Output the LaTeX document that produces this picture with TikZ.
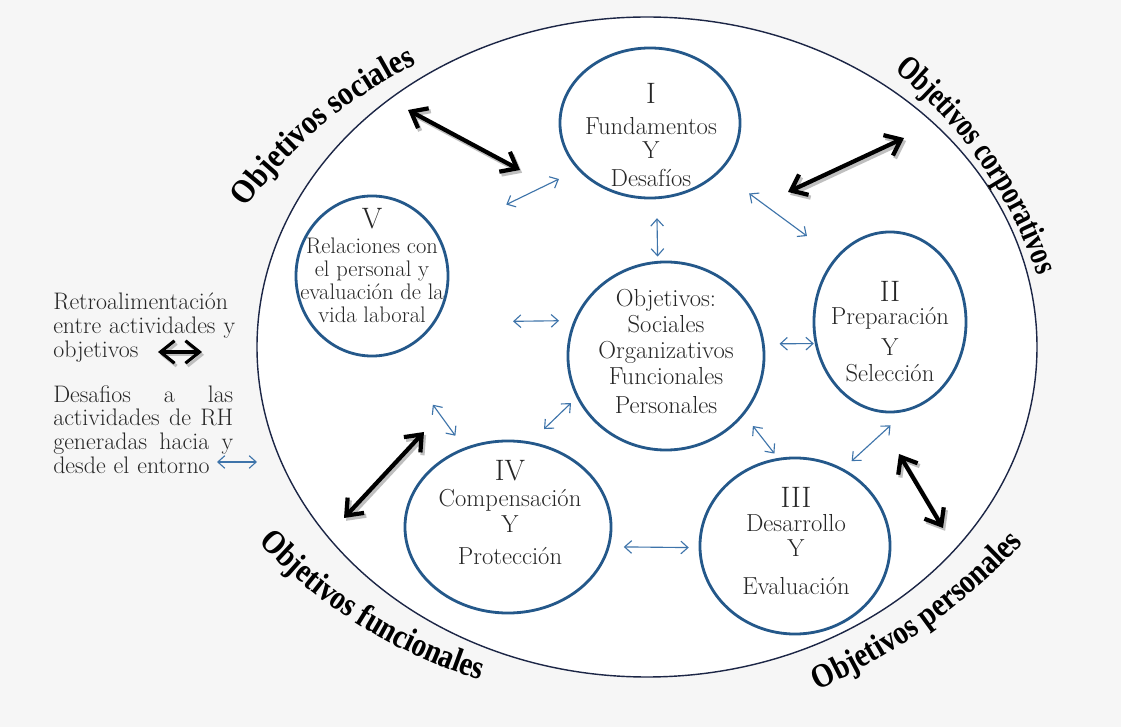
\documentclass[tikz,border=0pt]{standalone}
\usepackage{fontspec}
\usetikzlibrary{arrows.meta,shapes.geometric,decorations.text}
\newfontfamily\arcwide[FakeStretch=0.88]{Liberation Serif}
\newfontfamily\arcmid[FakeStretch=0.85]{Liberation Serif}
\newfontfamily\arcnarrow[FakeStretch=0.77]{Liberation Serif}
\definecolor{circblue}{RGB}{36,88,138}
\definecolor{linkblue}{RGB}{62,116,170}
\definecolor{rimnavy}{RGB}{28,38,70}
\definecolor{paper}{RGB}{246,246,246}
\newcommand*{\numfont}{\fontsize{21}{21}\selectfont}
\newcommand*{\keyline}[1]{\makebox[4.5cm][s]{\spaceskip=.3333em plus 1fil #1}}
\newcommand*{\ArcLabel}[3]{% #1 = font family, #2 = arc the words run along, #3 = words
  \path[decorate, transform canvas={shift={(1.4pt,-1.6pt)}},
    decoration={text along path, text align=center, text color=black!30,
      text={|#1\bfseries\fontsize{24}{24}\selectfont|#3}}] #2;
  \path[decorate, decoration={text along path, text align=center,
      text={|#1\bfseries\fontsize{24}{24}\selectfont|#3}}] #2;
}

\begin{document}
\begin{tikzpicture}[x=0.025cm, y=-0.025cm,
    circ/.style={ellipse, draw=circblue, line width=2pt, inner sep=0pt},
    words/.style={align=center, inner sep=0pt, anchor=north, text=black!85,
      font=\fontsize{17.5}{17}\selectfont},
    key/.style={text width=4.5cm, align=left, inner sep=0pt, text=black!85,
      anchor=north west, font=\fontsize{17}{17}\selectfont},
    link/.style={draw=linkblue, line width=0.8pt,
      {Straight Barb[length=5pt,width=9pt]}-{Straight Barb[length=5pt,width=9pt]}},
    big/.style={line width=3pt,
      {Straight Barb[length=10pt,width=16pt]}-{Straight Barb[length=10pt,width=16pt]}},
    bigshadow/.style={big, draw=black!25, transform canvas={shift={(1.5pt,-2pt)}}}]

  % page and the big ring of objectives
  \fill[paper] (0,0) rectangle (1121,727);
  \useasboundingbox (0,0) rectangle (1121,727);
  \draw[rimnavy, line width=1pt, fill=white] (647,347) ellipse [x radius=390, y radius=330];

  % the six activity circles
  \node[circ, minimum width=4.5cm,  minimum height=3.75cm] (I)   at (650,123) {};
  \node[circ, minimum width=3.8cm,  minimum height=4cm]    (V)   at (372,276) {};
  \node[circ, minimum width=4.9cm,  minimum height=4.7cm]  (C)   at (666,356) {};
  \node[circ, minimum width=3.8cm,  minimum height=4.5cm]  (II)  at (890,322) {};
  \node[circ, minimum width=4.75cm, minimum height=4.4cm]  (III) at (795,546) {};
  \node[circ, minimum width=5.15cm, minimum height=4.3cm]  (IV)  at (508,527) {};

  \node[words] (tI) at (651,83) {{\numfont I}\\[5pt]Fundamentos\\[0.5pt]Y\\[2.4pt]Desafíos};
  \node[words, font=\fontsize{16}{16.3}\selectfont] (tV) at (372,208)
    {{\numfont V}\\[1.4pt]Relaciones con\\el personal y\\evaluación de la\\vida laboral};
  \node[words, font=\fontsize{17.5}{18.4}\selectfont] (tC) at (666,289)
    {Objetivos:\\Sociales\\Organizativos\\Funcionales\\[2.2pt]Personales};
  \node[words] (tII)  at (890,281) {{\numfont II}\\[-0.7pt]Preparación\\[4.8pt]Y\\[1.6pt]Selección};
  \node[words] (tIII) at (796,487) {{\numfont III}\\[0pt]Desarrollo\\[0.7pt]Y\\[10pt]Evaluación};
  \node[words] (tIV)  at (510,460) {{\numfont IV}\\[1.4pt]Compensación\\[1.9pt]Y\\[5.2pt]Protección};

  % challenges between the activities
  \foreach \a/\b/\s/\e in {I.-147/V.30/14.9pt/52.5pt, I.-35/II.130/25.7pt/25.2pt,
      I.-85/C.95.5/13.5pt/3.1pt, V.-36.5/C.159.6/55pt/10.4pt,
      C.7.6/II.-164.1/10.6pt/0.7pt, C.-155.4/IV.75.5/5.5pt/13pt,
      C.-37.5/III.101/10pt/4pt, V.-73.6/IV.119/45pt/10.5pt,
      II.-80.5/III.58/14.7pt/8pt, IV.-11.9/III.-179/10pt/7pt}
    \draw[link, shorten <=\s, shorten >=\e] (\a) -- (\b);

  % feedback towards the objectives
  \coordinate (soc1) at (408,110);  \coordinate (soc2) at (520,170);
  \coordinate (cor1) at (788,192);  \coordinate (cor2) at (904,138);
  \coordinate (fun1) at (424,432);  \coordinate (fun2) at (344,518);
  \coordinate (per1) at (899,454);  \coordinate (per2) at (943,528);
  \foreach \p/\q in {soc1/soc2, cor1/cor2, fun1/fun2, per1/per2} {
    \draw[bigshadow] (\p) -- (\q);
    \draw[big] (\p) -- (\q);
  }

  % key
  \node[key] (key1) at (53,293)
    {Retroalimentación\\\keyline{entre actividades y}\\objetivos};
  \node[key] (key2) at (53,385)
    {\keyline{Desafios a las}\\\keyline{actividades de RH}\\
     \keyline{generadas hacia y}\\desde el entorno};
  \coordinate (kb1) at (158,352);  \coordinate (kb2) at (202,352);
  \coordinate (kl1) at (217,462);  \coordinate (kl2) at (257,462);
  \draw[bigshadow, line width=2.2pt] (kb1) -- (kb2);
  \draw[big, line width=2.2pt] (kb1) -- (kb2);
  \draw[link] (kl1) -- (kl2);

  % objectives written round the ring
  \ArcLabel{\arcwide}{(615,474) ++(-150:455) arc[start angle=-150, end angle=-110, radius=455]}{Objetivos sociales}
  \ArcLabel{\arcnarrow}{(612,421) ++(-58:450) arc[start angle=-58, end angle=-12, radius=450]}{Objetivos corporativos}
  \ArcLabel{\arcmid}{(632,188) ++(141:515) arc[start angle=141, end angle=102.6, radius=515]}{Objetivos funcionales}
  \ArcLabel{\arcmid}{(560,113) ++(70.4:632) arc[start angle=70.4, end angle=38.4, radius=632]}{Objetivos personales}
\end{tikzpicture}
\end{document}
